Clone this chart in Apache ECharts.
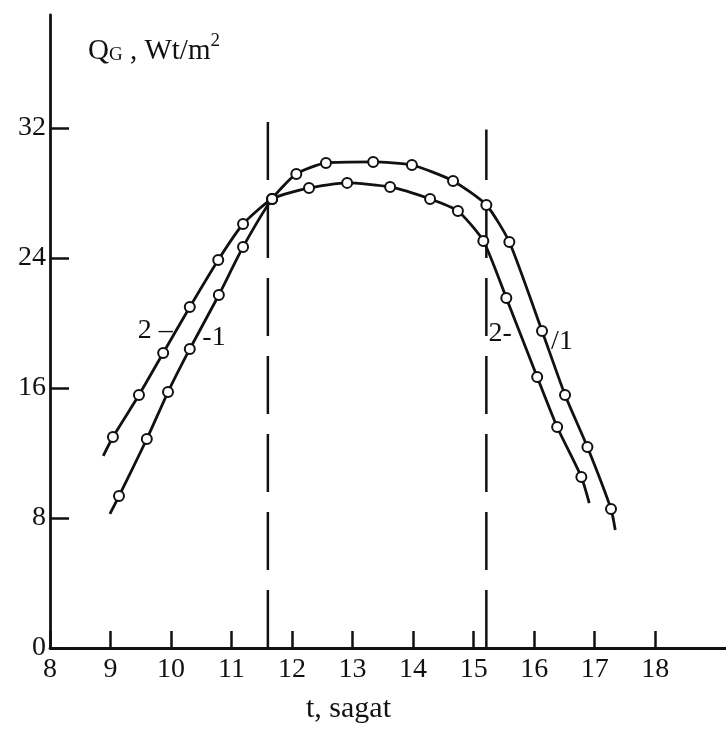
<!DOCTYPE html>
<html>
<head>
<meta charset="utf-8">
<script src="https://cdn.jsdelivr.net/npm/echarts@6/dist/echarts.min.js"></script>
<style>
html,body{margin:0;padding:0;background:#fff;}
#chart{width:726px;height:729px;}
</style>
</head>
<body>
<div id="chart"></div>
<script>
// ---- data (t in hours, Q in W/m2) ----
var curve1T = [9.14, 9.60, 9.95, 10.31, 10.79, 11.19, 11.67, 12.07, 12.56, 13.34, 13.98, 14.66, 15.21, 15.59, 16.13, 16.51, 16.88, 17.27];
var curve1Q = [9.35, 12.86, 15.75, 18.40, 21.72, 24.68, 27.63, 29.17, 29.85, 29.91, 29.72, 28.74, 27.26, 24.98, 19.51, 15.57, 12.37, 8.55];
var curve1Ends = [[8.99, 8.25], [17.34, 7.26]];

var curve2T = [9.04, 9.47, 9.87, 10.31, 10.78, 11.19, 12.28, 12.91, 13.62, 14.28, 14.74, 15.16, 15.54, 16.05, 16.38, 16.78];
var curve2Q = [12.98, 15.57, 18.15, 20.98, 23.88, 26.09, 28.31, 28.62, 28.37, 27.63, 26.89, 25.05, 21.54, 16.68, 13.60, 10.52];
var curve2Ends = [[8.88, 11.82], [16.91, 8.92]];
var crossingPoint = [11.67, 27.63]; // shared point where the curves meet

var dashedLinesT = [11.6, 15.21];
var dashedLinesTop = [32.4, 31.9];

var xTicks = [8, 9, 10, 11, 12, 13, 14, 15, 16, 17, 18];
var yTicks = [0, 8, 16, 24, 32];

var curveLabels = [
  [9.74, 19.51, '2 \u2013'],
  [10.71, 19.08, '-1'],
  [15.44, 19.32, '2-'],
  [16.46, 18.83, '/1']
];

// ---- build series data ----
function buildCurve(ts, qs, ends, extra) {
  var pts = ts.map(function (t, i) { return [t, qs[i]]; });
  if (extra) pts.push(extra);
  pts.sort(function (a, b) { return a[0] - b[0]; });
  var data = pts.map(function (p) { return { value: p }; });
  data.unshift({ value: ends[0], symbol: 'none' });
  data.push({ value: ends[1], symbol: 'none' });
  return data;
}
var c1 = buildCurve(curve1T, curve1Q, curve1Ends, crossingPoint);
var c2 = buildCurve(curve2T, curve2Q, curve2Ends, crossingPoint);

var FONT = "'Liberation Serif', 'DejaVu Serif', serif";
var INK = '#111';

var curveStyle = {
  type: 'line',
  smooth: 0.2,
  symbol: 'circle',
  symbolSize: 10,
  itemStyle: { color: '#fff', borderColor: INK, borderWidth: 2 },
  lineStyle: { color: INK, width: 2.8 },
  z: 3,
  animation: false
};

var series = [
  Object.assign({}, curveStyle, { name: '1', data: c1 }),
  Object.assign({}, curveStyle, { name: '2', data: c2 })
];
dashedLinesT.forEach(function (t, i) {
  series.push({
    type: 'line',
    data: [[t, 0], [t, dashedLinesTop[i]]],
    symbol: 'none',
    lineStyle: { color: INK, width: 2.5, type: [58, 20] },
    z: 2,
    animation: false
  });
});

var chart = echarts.init(document.getElementById('chart'), null, { renderer: 'canvas' });
chart.setOption({
  backgroundColor: '#fff',
  animation: false,
  grid: { left: 50, right: 0, top: 15, bottom: 81, containLabel: false },
  xAxis: {
    type: 'value',
    min: 8,
    max: 19.17,
    axisLine: { show: true, lineStyle: { color: INK, width: 2.8 } },
    axisTick: { show: true, inside: true, length: 17, lineStyle: { color: INK, width: 2.5 }, customValues: xTicks },
    axisLabel: { customValues: xTicks, fontFamily: FONT, fontSize: 28, color: INK, margin: 8 },
    splitLine: { show: false }
  },
  yAxis: {
    type: 'value',
    min: 0,
    max: 38.95,
    axisLine: { show: true, lineStyle: { color: INK, width: 2.8 } },
    axisTick: { show: true, inside: true, length: 19, lineStyle: { color: INK, width: 2.5 }, customValues: yTicks },
    axisLabel: { customValues: yTicks, fontFamily: FONT, fontSize: 28, color: INK, margin: 4 },
    splitLine: { show: false }
  },
  series: series
});

// text annotations (axis titles + curve labels)
var graphics = [
  {
    type: 'text',
    left: 88,
    top: 32,
    style: {
      text: '{q|Q}{g|G}{q| , Wt/m}{s|2}',
      rich: {
        q: { fontFamily: FONT, fontSize: 29, fill: INK, verticalAlign: 'bottom', lineHeight: 34 },
        g: { fontFamily: FONT, fontSize: 19, fill: INK, verticalAlign: 'bottom', lineHeight: 34, padding: [0, 0, 1, 0] },
        s: { fontFamily: FONT, fontSize: 19, fill: INK, verticalAlign: 'top', lineHeight: 34, padding: [0, 0, 14, 0] }
      }
    }
  },
  {
    type: 'text',
    left: 306,
    top: 694,
    style: { text: 't, sagat', fontFamily: FONT, fontSize: 30, fill: INK }
  }
];
curveLabels.forEach(function (l) {
  var p = chart.convertToPixel({ gridIndex: 0 }, [l[0], l[1]]);
  graphics.push({
    type: 'text',
    x: p[0],
    y: p[1],
    z: 10,
    style: { text: l[2], fontFamily: FONT, fontSize: 28, fill: INK, align: 'center', verticalAlign: 'middle' }
  });
});
chart.setOption({ graphic: graphics });
</script>
</body>
</html>
